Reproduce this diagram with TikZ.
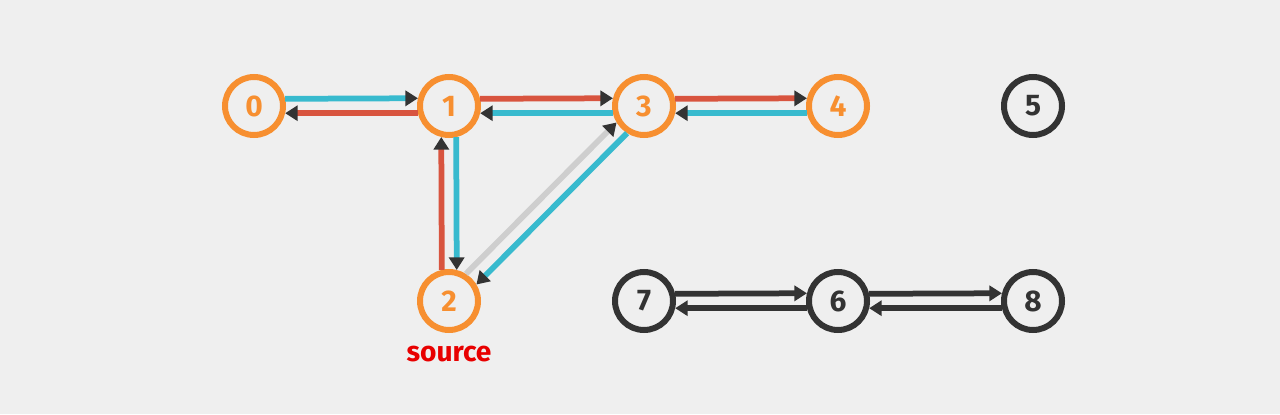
\documentclass[tikz,border=0pt]{standalone}
\usepackage{fontspec}
\setmainfont{Fira Sans}
\usetikzlibrary{arrows.meta,positioning}
\definecolor{bggray}{RGB}{239,239,239}
\definecolor{visitorange}{RGB}{247,143,48}
\definecolor{treered}{RGB}{216,84,63}
\definecolor{backblue}{RGB}{56,186,206}
\definecolor{crossgray}{RGB}{206,206,206}
\definecolor{inkdark}{RGB}{51,51,51}
\definecolor{sourcered}{RGB}{232,0,0}

\tikzset{
    vertex/.style={circle, draw, line width=0.12cm, minimum size=1.16cm, inner sep=0pt,
                   font=\fontsize{17}{20}\selectfont\bfseries},
    seen/.style={vertex, visitorange, text=visitorange},
    unseen/.style={vertex, inkdark, text=inkdark},
    edge/.style={line width=0.115cm,
                 -{Triangle[length=0.25cm, width=0.3cm, color=inkdark]}},
}

\begin{document}
\begin{tikzpicture}
    \useasboundingbox[fill=bggray] (0,0) rectangle (25.6,8.28);

    % Vertices
    \node[seen] (v0) at (5.08,6.16) {0};
    \node[seen] (v1) at (8.98,6.16) {1};
    \node[seen] (v3) at (12.88,6.16) {3};
    \node[seen] (v4) at (16.76,6.16) {4};
    \node[unseen] (v5) at (20.66,6.16) {5};
    \node[seen] (v2) at (8.98,2.26) {2};
    \node[unseen] (v7) at (12.88,2.26) {7};
    \node[unseen] (v6) at (16.76,2.26) {6};
    \node[unseen] (v8) at (20.66,2.26) {8};

    % Source label
    \node[sourcered, font=\fontsize{16}{19}\selectfont\bfseries, below=0.14cm of v2] (src) {source};

    % Edges of the search
    \draw[edge, backblue] (v0.13.5) -- (v1.166.5);
    \draw[edge, treered] (v1.193.5) -- (v0.-13.5);
    \draw[edge, treered] (v1.13.5) -- (v3.166.5);
    \draw[edge, backblue] (v3.193.5) -- (v1.-13.5);
    \draw[edge, treered] (v3.13.5) -- (v4.166.5);
    \draw[edge, backblue] (v4.193.5) -- (v3.-13.5);
    \draw[edge, treered] (v2.103.5) -- (v1.256.5);
    \draw[edge, backblue] (v1.283.5) -- (v2.76.5);
    \draw[edge, crossgray] (v2.58.5) -- (v3.211.5);
    \draw[edge, backblue] (v3.238.5) -- (v2.31.5);

    % Unreached part
    \draw[edge, inkdark] (v7.13.5) -- (v6.166.5);
    \draw[edge, inkdark] (v6.193.5) -- (v7.-13.5);
    \draw[edge, inkdark] (v6.13.5) -- (v8.166.5);
    \draw[edge, inkdark] (v8.193.5) -- (v6.-13.5);
\end{tikzpicture}
\end{document}
